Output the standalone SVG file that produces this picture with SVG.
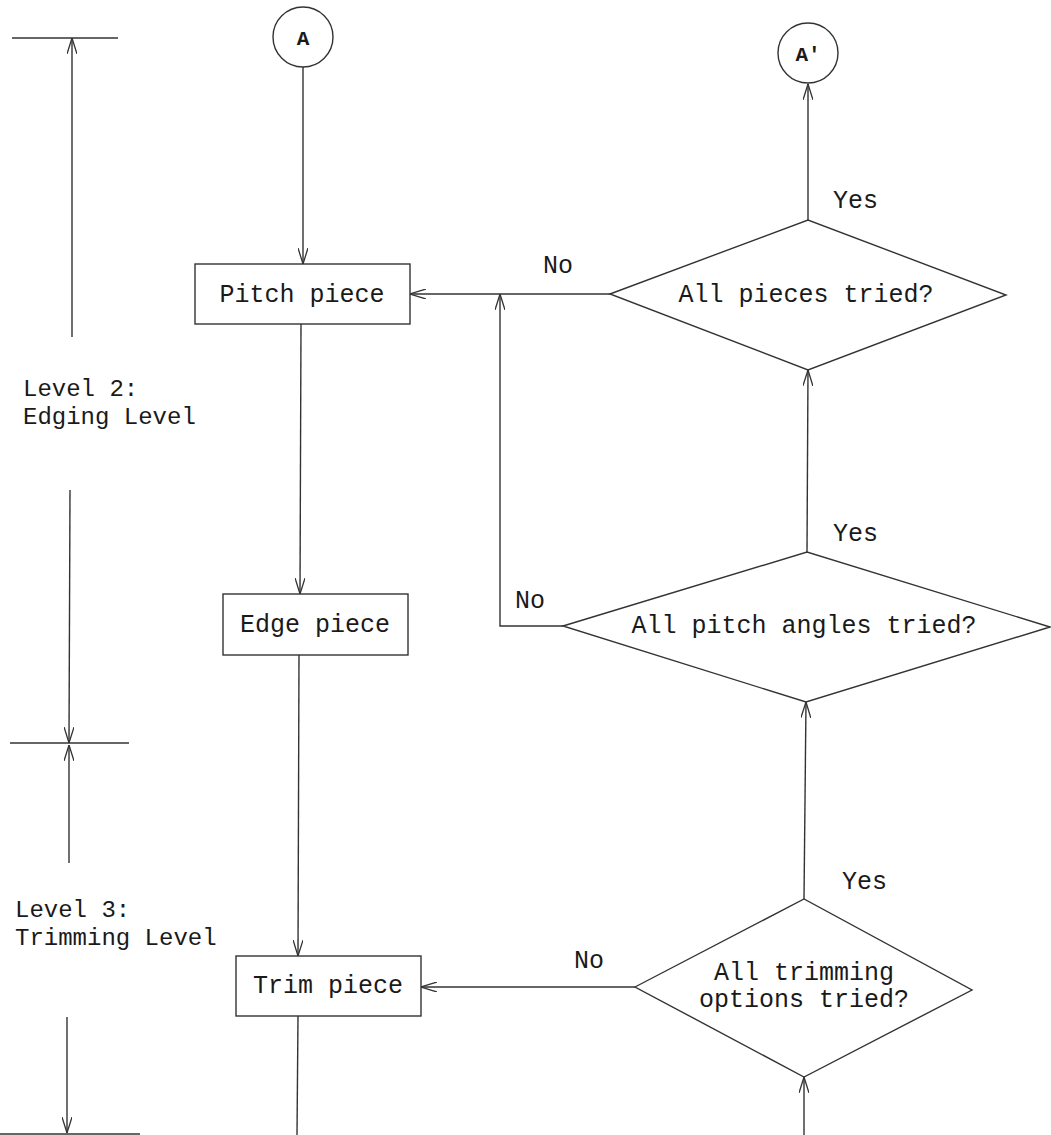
<svg xmlns="http://www.w3.org/2000/svg" width="1051" height="1135" viewBox="0 0 1051 1135">
<style>
.s{fill:#fff;stroke:#333;stroke-width:1.4}
.c{fill:none;stroke:#333;stroke-width:1.4}
.t{font-family:"Liberation Mono","Courier New",monospace;font-size:25px;fill:#1a1a1a}
.l{font-size:24px}
.m{text-anchor:middle}
.b{font-weight:bold;font-size:21px}
</style>
<defs>
<marker id="ah" viewBox="0 0 16 10" refX="16" refY="5" markerWidth="16" markerHeight="10" markerUnits="userSpaceOnUse" orient="auto">
<path d="M0,0 L16,5 L0,10" fill="none" stroke="#333" stroke-width="1.3"/>
</marker>
</defs>
<rect width="1051" height="1135" fill="#fff"/>
<g id="levels">
<line class="c" x1="12" y1="38" x2="118" y2="38"/>
<line class="c" x1="72" y1="337" x2="72" y2="38" marker-end="url(#ah)"/>
<text class="t l" x="23" y="396">Level 2:</text>
<text class="t l" x="23" y="424">Edging Level</text>
<line class="c" x1="70" y1="490" x2="69" y2="743" marker-end="url(#ah)"/>
<line class="c" x1="10" y1="743" x2="129" y2="743"/>
<line class="c" x1="69" y1="863" x2="69" y2="745" marker-end="url(#ah)"/>
<text class="t l" x="15" y="917">Level 3:</text>
<text class="t l" x="15" y="945">Trimming Level</text>
<line class="c" x1="67" y1="1017" x2="67" y2="1133" marker-end="url(#ah)"/>
<line class="c" x1="0" y1="1134" x2="140" y2="1134"/>
</g>
<g id="connectors">
<line class="c" x1="303" y1="67" x2="303" y2="264" marker-end="url(#ah)"/>
<line class="c" x1="301" y1="324" x2="300" y2="594" marker-end="url(#ah)"/>
<line class="c" x1="299" y1="655" x2="298" y2="956" marker-end="url(#ah)"/>
<line class="c" x1="298" y1="1016" x2="297" y2="1135"/>
<line class="c" x1="610" y1="294" x2="410" y2="294" marker-end="url(#ah)"/>
<polyline class="c" points="563,626 500,626 500,294" marker-end="url(#ah)"/>
<line class="c" x1="808" y1="220" x2="808" y2="84" marker-end="url(#ah)"/>
<line class="c" x1="807" y1="552" x2="808" y2="370" marker-end="url(#ah)"/>
<line class="c" x1="804" y1="899" x2="806" y2="702" marker-end="url(#ah)"/>
<line class="c" x1="804" y1="1135" x2="804" y2="1077" marker-end="url(#ah)"/>
<line class="c" x1="635" y1="987" x2="421" y2="987" marker-end="url(#ah)"/>
<text class="t" x="543" y="273">No</text>
<text class="t" x="833" y="208">Yes</text>
<text class="t" x="833" y="541">Yes</text>
<text class="t" x="515" y="608">No</text>
<text class="t" x="842" y="889">Yes</text>
<text class="t" x="574" y="968">No</text>
</g>
<g id="nodeA">
<circle class="s" cx="303" cy="37" r="30"/>
<text class="t m b" x="303" y="45">A</text>
</g>
<g id="nodeA2">
<circle class="s" cx="808" cy="53" r="30"/>
<text class="t m b" x="808" y="61">A'</text>
</g>
<g id="pitch">
<rect class="s" x="195" y="264" width="215" height="60"/>
<text class="t m" x="302" y="302">Pitch piece</text>
</g>
<g id="edge">
<rect class="s" x="223" y="594" width="185" height="61"/>
<text class="t m" x="315" y="632">Edge piece</text>
</g>
<g id="trim">
<rect class="s" x="236" y="956" width="185" height="60"/>
<text class="t m" x="328" y="993">Trim piece</text>
</g>
<g id="d1">
<polygon class="s" points="610,294 808,220 1006,295 808,370"/>
<text class="t m" x="806" y="302">All pieces tried?</text>
</g>
<g id="d2">
<polygon class="s" points="563,626 807,552 1050,627 806,702"/>
<text class="t m" x="804" y="633">All pitch angles tried?</text>
</g>
<g id="d3">
<polygon class="s" points="635,987 804,899 972,990 804,1077"/>
<text class="t m" x="804" y="980">All trimming</text>
<text class="t m" x="804" y="1007">options tried?</text>
</g>
</svg>
